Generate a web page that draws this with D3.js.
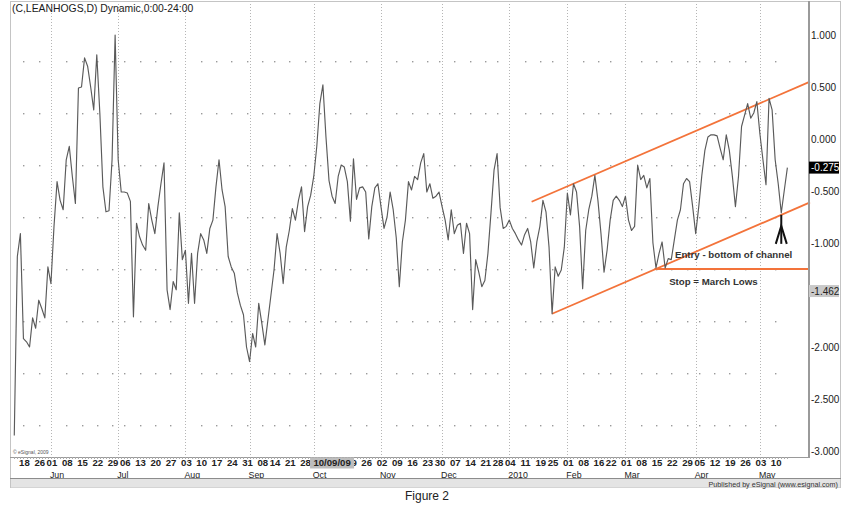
<!DOCTYPE html>
<html><head><meta charset="utf-8">
<script src="https://cdn.jsdelivr.net/npm/d3@7"></script>
<style>body{margin:0;background:#fff}svg{display:block;font-family:"Liberation Sans",Arial,sans-serif}</style>
</head><body><svg id="c" width="854" height="516"></svg>
<script>
// ---------- DATA ----------
const title = "(C,LEANHOGS,D) Dynamic,0:00-24:00";
const startDate = "2009-05-13";
const holidays = ["2009-05-25","2009-07-03","2009-09-07","2009-11-26","2009-12-25","2010-01-01","2010-01-18","2010-02-15","2010-04-02"];
const values = [
-2.85,-1.13,-0.91,-1.92,-1.95,-2.00,-1.72,-1.82,-1.55,-1.63,
-1.72,-1.23,-1.39,-0.84,-0.41,-0.59,-0.68,-0.20,-0.07,-0.36,
-0.62,0.49,0.50,0.78,0.70,0.50,0.28,0.81,0.25,-0.46,
-0.70,-0.69,-0.20,1.00,-0.20,-0.51,-0.51,-0.52,-0.60,-1.71,
-0.81,-0.94,-1.02,-1.07,-0.62,-0.78,-0.91,-0.65,-0.43,-0.23,
-1.45,-1.64,-1.37,-1.45,-0.71,-1.16,-1.07,-1.58,-1.10,-1.58,
-1.10,-0.91,-0.97,-1.10,-0.86,-0.78,-0.46,-0.20,-0.49,-0.65,
-1.13,-1.23,-1.29,-1.48,-1.60,-1.69,-2.00,-2.14,-1.87,-2.00,
-1.58,-1.77,-1.98,-1.74,-1.50,-1.26,-0.91,-1.10,-1.39,-1.04,
-0.88,-0.67,-0.78,-0.59,-0.46,-0.89,-0.65,-0.54,-0.36,-0.07,
0.34,0.52,0.02,-0.40,-0.55,-0.62,-0.36,-0.25,-0.27,-0.41,
-0.79,-0.19,-0.58,-0.47,-0.46,-0.51,-0.96,-0.65,-0.47,-0.43,
-0.65,-0.86,-0.75,-0.51,-0.68,-0.95,-1.42,-0.99,-0.78,-0.41,
-0.49,-0.36,-0.39,-0.23,-0.14,-0.51,-0.43,-0.57,-0.55,-0.51,
-0.65,-0.78,-0.97,-0.68,-0.91,-0.83,-0.81,-1.10,-0.81,-0.91,
-1.64,-1.16,-1.28,-1.42,-1.36,-1.10,-0.71,-0.30,-0.14,-0.66,
-0.86,-0.84,-0.78,-0.86,-0.91,-0.97,-1.02,-0.92,-0.86,-0.99,
-1.24,-0.99,-0.84,-0.59,-0.70,-1.04,-1.68,-1.23,-1.32,-1.26,
-1.04,-0.52,-0.73,-0.43,-0.51,-0.84,-1.44,-0.88,-0.68,-0.55,
-0.35,-0.59,-0.91,-1.28,-1.07,-0.78,-0.59,-0.55,-0.59,-0.65,
-0.55,-0.78,-0.88,-0.84,-0.25,-0.39,-0.35,-0.47,-0.38,-1.00,
-1.24,-1.10,-0.99,-1.24,-1.15,-1.16,-0.97,-0.78,-0.68,-0.43,
-0.38,-0.41,-0.65,-0.91,-0.65,-0.35,-0.11,0.02,0.04,0.04,
0.03,-0.09,-0.20,0.04,-0.11,-0.36,-0.65,-0.36,0.12,0.23,
0.34,0.20,0.25,0.36,0.05,-0.20,-0.44,0.39,0.28,-0.20,
-0.43,-0.71,-0.49,-0.275
];
const yTicks = [1, 0.5, 0, -0.5, -1, -2, -2.5, -3]; // -1.500 sits under the -1.462 marker box
const gridLevels = [0.75, 0.25, -0.25, -0.75, -1.25, -1.75, -2.25, -2.75];
const monthNames = ["2010","Feb","Mar","Apr","May","Jun","Jul","Aug","Sep","Oct","Nov","Dec"];
const lastValue = -0.275;
const markerValue = -1.462;
const cursorDate = "2009-10-09", cursorLabel = "10/09/09";
const channelUpper = [{i:169.3, v:-0.603}, {i:260.4, v:0.551}];
const channelLower = [{i:176, v:-1.68}, {i:260.4, v:-0.61}];
const stopLine = [{i:209.5, v:-1.25}, {i:260.4, v:-1.25}];
const notes = [
  {i:216.2, v:-1.145, text:"Entry - bottom of channel"},
  {i:214.3, v:-1.405, text:"Stop = March Lows"}
];
const entryIndex = 251;

// ---------- DATES ----------
const fmt = d3.utcFormat("%Y-%m-%d");
const hol = new Set(holidays);
const dates = [];
let d = d3.utcParse("%Y-%m-%d")(startDate);
while (dates.length < values.length) {
  const wd = d.getUTCDay();
  if (wd !== 0 && wd !== 6 && !hol.has(fmt(d))) dates.push(d);
  d = d3.utcDay.offset(d, 1);
}
const weekIdx = [], monthIdx = [];
dates.forEach((dt, i) => {
  if (i === 0) return;
  if (d3.utcMonday.floor(dt) > dates[i-1]) weekIdx.push(i);
  if (dt.getUTCMonth() !== dates[i-1].getUTCMonth()) monthIdx.push(i);
});
const cursorIdx = dates.findIndex(dt => fmt(dt) === cursorDate);

// ---------- SCALES ----------
const svg = d3.select("#c");
const L = 10, R = 810, T = 1, B = 457;
const x = d3.scaleLinear().domain([-1.4, 260.4]).range([L, R]);
const y = d3.scaleLinear().domain([1, -3]).range([35, 451]);

svg.append("rect").attr("width",854).attr("height",516).attr("fill","#fff");

// vertical month gridlines
svg.append("g").selectAll("line").data(monthIdx).join("line")
  .attr("x1", i => Math.round(x(i))+0.5).attr("x2", i => Math.round(x(i))+0.5)
  .attr("y1", T).attr("y2", B)
  .attr("stroke","#b5b5b5").attr("stroke-dasharray","1,2");

// dotted horizontal grid (dots at weekly positions)
const dots = [];
gridLevels.forEach(v => weekIdx.forEach(i => { if (!monthIdx.includes(i)) dots.push({i, v}); }));
svg.append("g").selectAll("rect").data(dots).join("rect")
  .attr("x", p => Math.round(x(p.i))).attr("y", p => Math.round(y(p.v)))
  .attr("width",1.4).attr("height",1.4).attr("fill","#9a9a9a");

// channel + stop lines
const pl = d3.line().x(p => x(p.i)).y(p => y(p.v));
[channelUpper, channelLower, stopLine].forEach(seg => {
  svg.append("path").attr("d", pl(seg)).attr("fill","none")
    .attr("stroke","#f3733a").attr("stroke-width",1.8);
});

// data line
svg.append("path").datum(values)
  .attr("d", d3.line().x((v,i) => x(i)).y(v => y(v)))
  .attr("fill","none").attr("stroke","#5a5a5a").attr("stroke-width",1.15)
  .attr("stroke-linejoin","round");

// annotations
notes.forEach(n => {
  svg.append("text").attr("x", x(n.i)).attr("y", y(n.v))
    .attr("font-size", 9.7).attr("font-weight","bold").attr("fill","#333").text(n.text);
});
// arrow
const ax = x(entryIndex), ay = y(values[entryIndex]);
const arrow = svg.append("g").attr("stroke","#111").attr("stroke-width",2).attr("fill","none");
arrow.append("line").attr("x1",ax).attr("x2",ax).attr("y1",ay+2).attr("y2",ay+31);
arrow.append("path").attr("d",`M${ax-5.5},${ay+31}L${ax},${ay+13}L${ax+5.5},${ay+31}`);

// frame lines
svg.append("rect").attr("x",L+0.5).attr("y",T+0.5).attr("width",830).attr("height",486)
  .attr("fill","none").attr("stroke","#c4c4c4");
svg.append("line").attr("x1",L).attr("x2",R).attr("y1",B+0.5).attr("y2",B+0.5).attr("stroke","#9a9a9a");
svg.append("line").attr("x1",R-1).attr("x2",R-1).attr("y1",T).attr("y2",B+1).attr("stroke","#9a9a9a").attr("stroke-width",2);

// title
svg.append("text").attr("x",12).attr("y",11.5).attr("font-size",10.4).attr("fill","#1a1a1a").text(title);
svg.append("text").attr("x",13).attr("y",454).attr("font-size",5).attr("fill","#555").text("\u00a9 eSignal, 2009");

// y labels
svg.append("g").selectAll("text").data(yTicks).join("text")
  .attr("x", 811).attr("y", v => y(v)).attr("dy","0.35em")
  .attr("font-size",10).attr("fill","#1a1a1a").text(v => d3.format(".3f")(v).replace("\u2212","-"));

// value boxes
function valueBox(v, bg, fg) {
  svg.append("rect").attr("x",809).attr("y",y(v)-6).attr("width",30).attr("height",12).attr("fill",bg);
  svg.append("text").attr("x",811).attr("y",y(v)).attr("dy","0.35em").attr("font-size",10)
    .attr("fill",fg).text(d3.format(".3f")(v).replace("\u2212","-"));
}
valueBox(lastValue, "#000", "#fff");
valueBox(markerValue, "#c9c9c9", "#222");

// x axis day ticks
svg.append("g").selectAll("line").data(dates).join("line")
  .attr("x1",(dt,i)=>Math.round(x(i))+0.5).attr("x2",(dt,i)=>Math.round(x(i))+0.5)
  .attr("y1",B).attr("y2",B+2).attr("stroke","#aaa");

// day labels (week starts); those fully under the cursor date box are hidden
const cx = x(cursorIdx);
const dayLabels = weekIdx.filter(i => Math.abs(x(i) - cx) > 16);
svg.append("g").selectAll("text").data(dayLabels).join("text")
  .attr("x", i => x(i)+1).attr("y", 466.3).attr("text-anchor","middle")
  .attr("font-size",9.6).attr("font-weight","bold").attr("fill","#222")
  .text(i => d3.utcFormat("%d")(dates[i]));

// cursor date box
svg.append("rect").attr("x",cx-22).attr("y",457.5).attr("width",44).attr("height",11).attr("fill","#bdbdbd");
svg.append("text").attr("x",cx).attr("y",466.3).attr("text-anchor","middle").attr("font-size",9.6)
  .attr("font-weight","bold").attr("fill","#222").text(cursorLabel);

// month labels
svg.append("g").selectAll("text").data(monthIdx).join("text")
  .attr("x", i => x(i)-1).attr("y", 477.6)
  .attr("font-size",8.8).attr("fill","#222")
  .text(i => monthNames[dates[i].getUTCMonth()]);

// bottom band
svg.append("rect").attr("x",L+1).attr("y",478.5).attr("width",829).attr("height",9).attr("fill","#e4e4e4");
svg.append("line").attr("x1",L).attr("x2",841).attr("y1",478.5).attr("y2",478.5).attr("stroke","#8c8c8c").attr("stroke-width",1.2);
svg.append("text").attr("x",838).attr("y",486.5).attr("text-anchor","end").attr("font-size",7.2)
  .attr("fill","#333").text("Published by eSignal (www.esignal.com)");

svg.append("text").attr("x",427).attr("y",500).attr("text-anchor","middle").attr("font-size",12)
  .attr("fill","#222").text("Figure 2");
</script></body></html>
